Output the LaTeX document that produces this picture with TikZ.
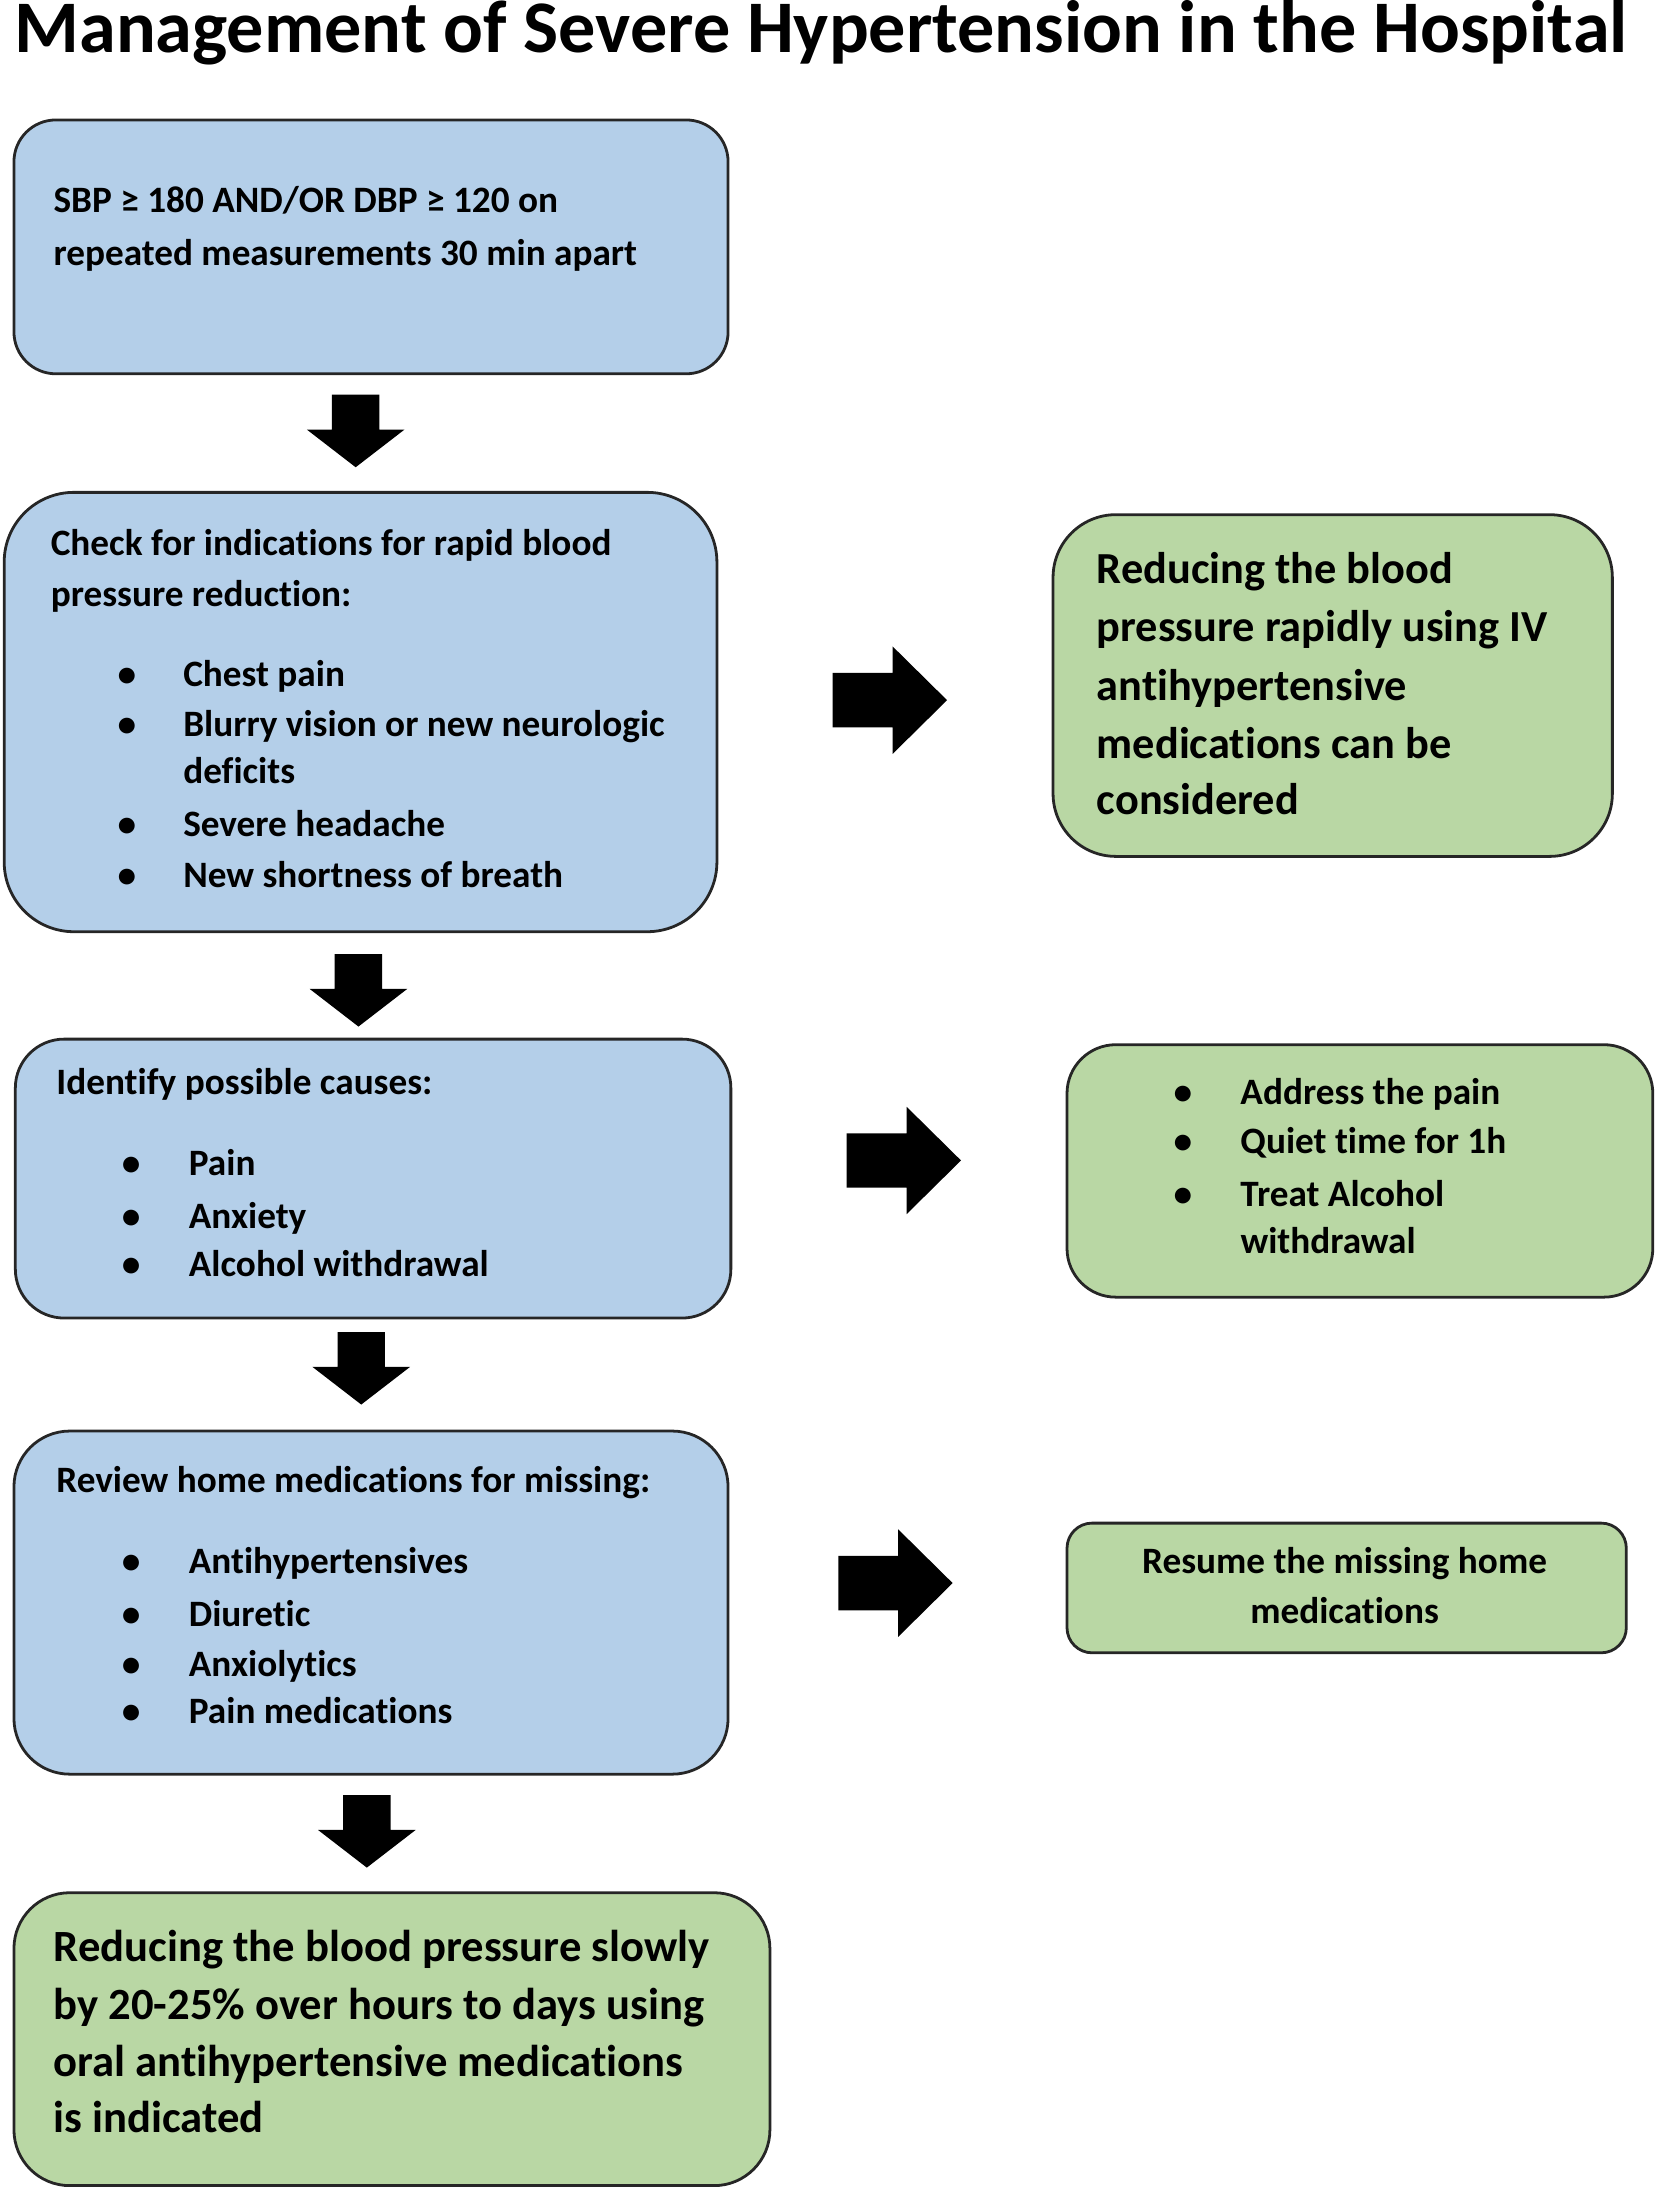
\documentclass[tikz,border=0pt]{standalone}
\usepackage{fontspec}
\setmainfont{Carlito}[RawFeature={-liga;-clig;-dlig}]
\definecolor{blueFill}{RGB}{180,207,233}
\definecolor{greenFill}{RGB}{185,215,164}
\newcommand\tline[2]{\baselineskip=#1\relax\hbox{#2}}
\newcommand\ctrline[2]{\baselineskip=#1\relax\hbox to 0pt{\hss #2\hss}}
\newcommand\bitem[3]{\hspace*{#1}\makebox[#2][l]{\textbullet}#3}
\tikzset{
  boxbase/.style={draw=black!85, line width=1pt, inner sep=0pt, anchor=north west},
  bluebox/.style={boxbase, fill=blueFill},
  greenbox/.style={boxbase, fill=greenFill},
  txt/.style={anchor=base west, inner sep=0pt, align=left},
  body/.style={font=\fontsize{13.35pt}{18pt}\selectfont\bfseries},
  blockarrow/.style={fill=black, draw=none},
}
\begin{document}
\begin{tikzpicture}[x=0.5pt,y=-0.5pt]
\useasboundingbox (0,0) rectangle (1186,1568);
\lineskiplimit=-100pt

% title
\node[txt, font=\fontsize{26.6pt}{30pt}\selectfont\bfseries] (title) at (10,38)
  {Management of Severe Hypertension in the Hospital};

% boxes
\node[bluebox, rounded corners=15pt, minimum width=256pt, minimum height=91pt] (b1) at (9,85) {};
\node[bluebox, rounded corners=25pt, minimum width=255.5pt, minimum height=157.5pt] (b2) at (2,352) {};
\node[greenbox, rounded corners=22.5pt, minimum width=200.5pt, minimum height=122.5pt] (g1) at (754,368) {};
\node[bluebox, rounded corners=17.5pt, minimum width=256.5pt, minimum height=100pt] (b3) at (10,744) {};
\node[greenbox, rounded corners=17.5pt, minimum width=210pt, minimum height=90.5pt] (g2) at (764,748) {};
\node[bluebox, rounded corners=20pt, minimum width=256pt, minimum height=123pt] (b4) at (9,1025) {};
\node[greenbox, rounded corners=9pt, minimum width=200.5pt, minimum height=46.5pt] (g3) at (764,1091) {};
\node[greenbox, rounded corners=20pt, minimum width=271pt, minimum height=105pt] (g4) at (9,1356) {};

% texts
\node[txt, body] (t1) at (38,152) {\vtop{%
  \tline{19pt}{SBP ≥ 180 AND/OR DBP ≥ 120 on}%
  \tline{19pt}{repeated measurements 30 min apart}}};

\node[txt, body] (t2) at (36,398) {\vtop{%
  \tline{18.5pt}{Check for indications for rapid blood}%
  \tline{18.5pt}{pressure reduction:}%
  \tline{28.5pt}{\bitem{24pt}{23.5pt}{Chest pain}}%
  \tline{18pt}{\bitem{24pt}{23.5pt}{Blurry vision or new neurologic}}%
  \tline{17pt}{\hspace*{47.5pt}deficits}%
  \tline{19pt}{\bitem{24pt}{23.5pt}{Severe headache}}%
  \tline{18pt}{\bitem{24pt}{23.5pt}{New shortness of breath}}}};

\node[txt, font=\fontsize{15.9pt}{21pt}\selectfont\bfseries] (t3) at (786,418) {\vtop{%
  \tline{21pt}{Reducing the blood}%
  \tline{21pt}{pressure rapidly using IV}%
  \tline{21pt}{antihypertensive}%
  \tline{21pt}{medications can be}%
  \tline{20pt}{considered}}};

\node[txt, body] (t4) at (40,785) {\vtop{%
  \tline{18pt}{Identify possible causes:}%
  \tline{29pt}{\bitem{23.5pt}{24pt}{Pain}}%
  \tline{19pt}{\bitem{23.5pt}{24pt}{Anxiety}}%
  \tline{17pt}{\bitem{23.5pt}{24pt}{Alcohol withdrawal}}}};

\node[txt, body] (t5) at (841,792) {\vtop{%
  \tline{17.5pt}{\bitem{0pt}{24pt}{Address the pain}}%
  \tline{17.5pt}{\bitem{0pt}{24pt}{Quiet time for 1h}}%
  \tline{19pt}{\bitem{0pt}{24pt}{Treat Alcohol}}%
  \tline{17pt}{\hspace*{24pt}withdrawal}}};

\node[txt, body] (t6) at (40,1070) {\vtop{%
  \tline{18pt}{Review home medications for missing:}%
  \tline{29pt}{\bitem{23.5pt}{24pt}{Antihypertensives}}%
  \tline{19pt}{\bitem{23.5pt}{24pt}{Diuretic}}%
  \tline{18pt}{\bitem{23.5pt}{24pt}{Anxiolytics}}%
  \tline{17pt}{\bitem{23.5pt}{24pt}{Pain medications}}}};

\node[anchor=base, inner sep=0pt, body] (t7) at (964,1128) {\vtop{%
  \ctrline{18pt}{Resume the missing home}%
  \ctrline{18pt}{medications}}};

\node[txt, font=\fontsize{16pt}{20.5pt}\selectfont\bfseries] (t8) at (38,1406) {\vtop{%
  \tline{20.5pt}{Reducing the blood pressure slowly}%
  \tline{21pt}{by 20-25\% over hours to days using}%
  \tline{20.5pt}{oral antihypertensive medications}%
  \tline{20pt}{is indicated}}};

% block arrows (down)
\foreach \cx/\ty in {255/283, 257/684, 259/955, 263/1287}{
  \fill[blockarrow] (\cx-17,\ty) -- (\cx+17,\ty) -- (\cx+17,\ty+25) -- (\cx+35,\ty+25)
    -- (\cx,\ty+52) -- (\cx-35,\ty+25) -- (\cx-17,\ty+25) -- cycle;
}
% block arrows (right)
\foreach \lx/\cy in {597/502, 607/832, 601/1135}{
  \fill[blockarrow] (\lx,\cy-19.5) -- (\lx+43,\cy-19.5) -- (\lx+43,\cy-38.5) -- (\lx+82,\cy)
    -- (\lx+43,\cy+38.5) -- (\lx+43,\cy+19.5) -- (\lx,\cy+19.5) -- cycle;
}
\end{tikzpicture}
\end{document}
